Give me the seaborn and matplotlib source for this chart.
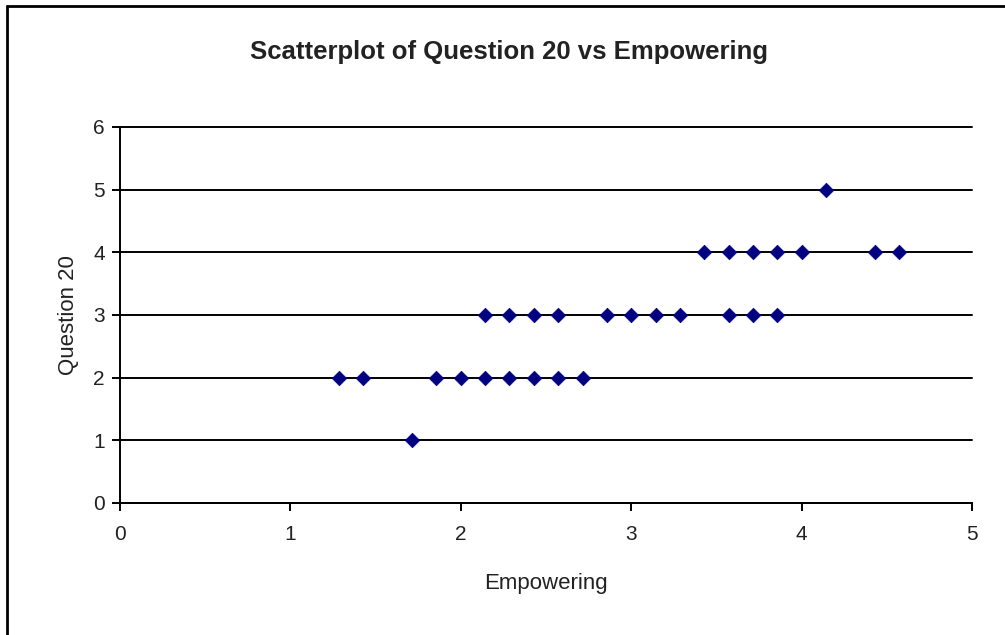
import matplotlib
matplotlib.use("Agg")
import matplotlib.pyplot as plt
import seaborn as sns
import pandas as pd
from matplotlib.lines import Line2D

# Data (Empowering scores are multiples of 1/7)
empowering = [9/7, 10/7, 13/7, 14/7, 15/7, 16/7, 17/7, 18/7, 19/7,
              12/7,
              15/7, 16/7, 17/7, 18/7, 20/7, 21/7, 22/7, 23/7, 25/7, 26/7, 27/7,
              24/7, 25/7, 26/7, 27/7, 28/7, 31/7, 32/7,
              29/7]
question20 = [2, 2, 2, 2, 2, 2, 2, 2, 2,
              1,
              3, 3, 3, 3, 3, 3, 3, 3, 3, 3, 3,
              4, 4, 4, 4, 4, 4, 4,
              5]
x_ticks = [0, 1, 2, 3, 4, 5]
y_ticks = [0, 1, 2, 3, 4, 5, 6]

df = pd.DataFrame({"Empowering": empowering, "Question 20": question20})

sns.set_theme(style="white")
plt.rcParams['font.family'] = ['Liberation Sans', 'DejaVu Sans']

fig = plt.figure(figsize=(10.05, 6.35), dpi=100)
fig.patch.set_facecolor("white")
ax = fig.add_axes([120/1005, 1-503/635, (972-120)/1005, (503-127)/635])

ax.set_xlim(0, 5)
ax.set_ylim(0, 6)
ax.set_xticks(x_ticks)
ax.set_yticks(y_ticks)
ax.yaxis.grid(True, color="black", linewidth=1.4)
ax.xaxis.grid(False)
ax.set_axisbelow(True)

sns.scatterplot(data=df, x="Empowering", y="Question 20", marker="D",
                s=55, color="#000080", edgecolor="#000080", linewidth=0.5,
                ax=ax, zorder=3, clip_on=False)

for side in ["top", "right"]:
    ax.spines[side].set_visible(False)
for side in ["left", "bottom"]:
    ax.spines[side].set_color("black")
    ax.spines[side].set_linewidth(1.4)

ax.tick_params(axis="both", which="major", direction="out", length=6, width=1.4,
               color="black", labelsize=15, labelcolor="#222222",
               bottom=True, left=True)
ax.tick_params(axis="x", pad=10)
ax.tick_params(axis="y", pad=5)
for gl in ax.get_ygridlines():
    gl.set_clip_on(False)

ax.set_xlabel("Empowering", fontsize=16, color="#222222", labelpad=21)
ax.set_ylabel("Question 20", fontsize=16, color="#222222", labelpad=10)

fig.text(509/1005, 1-52/635, "Scatterplot of Question 20 vs Empowering",
         ha="center", va="center", fontsize=18.5, fontweight="bold", color="#222222")

# Chart-area border (left and top visible)
fig.add_artist(Line2D([7/1005, 7/1005], [0, 1-6/635], transform=fig.transFigure,
                      color="black", linewidth=2))
fig.add_artist(Line2D([7/1005, 1], [1-6/635, 1-6/635], transform=fig.transFigure,
                      color="black", linewidth=2))

fig.savefig("out.png", dpi=100, facecolor="white")
